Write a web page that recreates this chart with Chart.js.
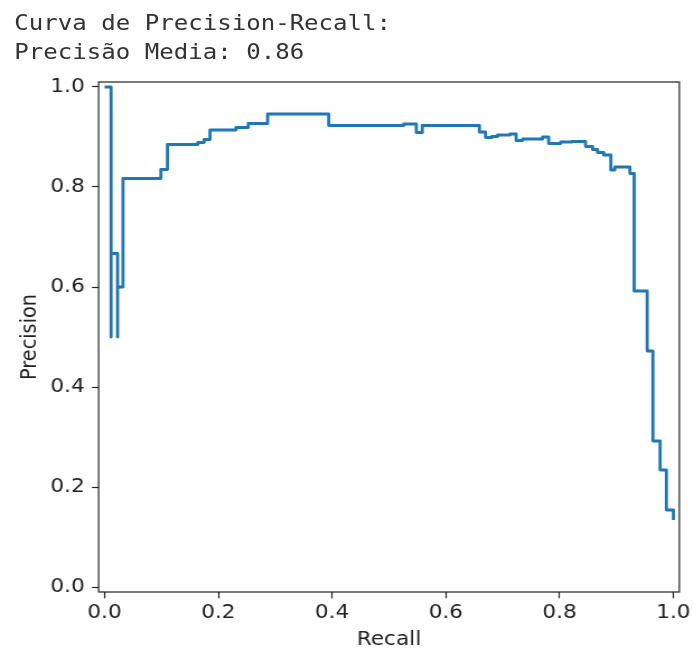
<!DOCTYPE html>
<html>
<head>
<meta charset="utf-8">
<script src="https://cdn.jsdelivr.net/npm/chart.js@4.4.0/dist/chart.umd.min.js"></script>
<style>
  html, body { margin: 0; padding: 0; background: #fff; overflow: hidden; }
  #stage { position: absolute; left: 0; top: 0; width: 620px; height: 653px;
           transform: scaleX(1.1194); transform-origin: 0 0; }
  #pr { position: absolute; left: 0; top: 0; }
  #hdr { position: absolute; left: 12.8px; top: 7.5px; margin: 0;
         font: 21.5px/29px 'DejaVu Sans Mono', monospace; color: #333; white-space: pre; }
</style>
</head>
<body>
<div id="stage">
  <canvas id="pr" width="620" height="653" style="width:620px;height:653px"></canvas>
  <pre id="hdr">Curva de Precision-Recall:
Precisão Media: 0.86</pre>
</div>
<script>
// Step vertices of the precision-recall curve, in increasing recall.
// Each vertex closes a horizontal run at its precision level.
const recall = [0, 0.0114, 0.0114, 0.0228, 0.0228, 0.0323, 0.0989, 0.1105, 0.164, 0.175,
  0.1854, 0.231, 0.2526, 0.2866, 0.394, 0.526, 0.548, 0.5586, 0.659, 0.6697,
  0.681, 0.691, 0.713, 0.7235, 0.735, 0.770, 0.7807, 0.802, 0.822, 0.8456,
  0.858, 0.8667, 0.8775, 0.890, 0.897, 0.9236, 0.931, 0.954, 0.964, 0.9767,
  0.9877, 1.0, 1.0];
const precision = [1.0, 1.0, 0.5, 0.667, 0.5, 0.6, 0.817, 0.835, 0.885, 0.889,
  0.895, 0.914, 0.919, 0.927, 0.946, 0.923, 0.926, 0.909, 0.923, 0.910,
  0.899, 0.901, 0.904, 0.906, 0.893, 0.896, 0.900, 0.887, 0.890, 0.891,
  0.881, 0.875, 0.869, 0.864, 0.834, 0.840, 0.827, 0.592, 0.472, 0.292,
  0.234, 0.154, 0.134];
const xTickValues = [0, 0.2, 0.4, 0.6, 0.8, 1.0];
const yTickValues = [0, 0.2, 0.4, 0.6, 0.8, 1.0];

const points = recall.map((r, i) => ({ x: r, y: precision[i] }));
const ink = '#222';
const labelFont = { family: 'DejaVu Sans', size: 19.3, lineHeight: 1.2 };

// Closed box around the plotting area.
const frame = {
  id: 'frame',
  afterDraw(chart) {
    const { ctx, chartArea: a } = chart;
    ctx.save();
    ctx.strokeStyle = ink;
    ctx.lineWidth = 1.2;
    ctx.strokeRect(a.left, a.top, a.right - a.left, a.bottom - a.top);
    ctx.restore();
  }
};

new Chart(document.getElementById('pr'), {
  type: 'line',
  data: {
    datasets: [{
      data: points,
      borderColor: '#1f77b4',
      borderWidth: 2.8,
      borderJoinStyle: 'round',
      stepped: 'after',
      pointRadius: 0,
      fill: false
    }]
  },
  options: {
    responsive: false,
    animation: false,
    devicePixelRatio: 1,
    layout: { padding: { top: 82, right: 12.5, bottom: 0, left: 0 } },
    plugins: { legend: { display: false }, tooltip: { enabled: false } },
    scales: {
      x: {
        type: 'linear',
        min: -0.0105,
        max: 1.0105,
        afterFit(s) { s.height = 61; },
        afterBuildTicks(s) { s.ticks = xTickValues.map(v => ({ value: v })); },
        border: { display: false },
        grid: { display: true, drawOnChartArea: false, drawTicks: true,
                tickLength: 6.3, tickWidth: 1.2, tickColor: ink },
        ticks: { font: labelFont, color: ink, padding: 3, maxRotation: 0,
                 callback: v => v.toFixed(1) },
        title: { display: true, text: 'Recall', font: labelFont, color: ink,
                 padding: { top: 0, bottom: 1.5 } }
      },
      y: {
        type: 'linear',
        min: -0.01,
        max: 1.01,
        afterFit(s) { s.width = 88.1; },
        afterBuildTicks(s) { s.ticks = yTickValues.map(v => ({ value: v })); },
        border: { display: false },
        grid: { display: true, drawOnChartArea: false, drawTicks: true,
                tickLength: 5.9, tickWidth: 1.2, tickColor: ink },
        ticks: { font: labelFont, color: ink, padding: 6.5,
                 callback: v => v.toFixed(1) },
        title: { display: true, text: 'Precision', font: labelFont, color: ink,
                 padding: { top: 15, bottom: 0 } }
      }
    }
  },
  plugins: [frame]
});
</script>
</body>
</html>
